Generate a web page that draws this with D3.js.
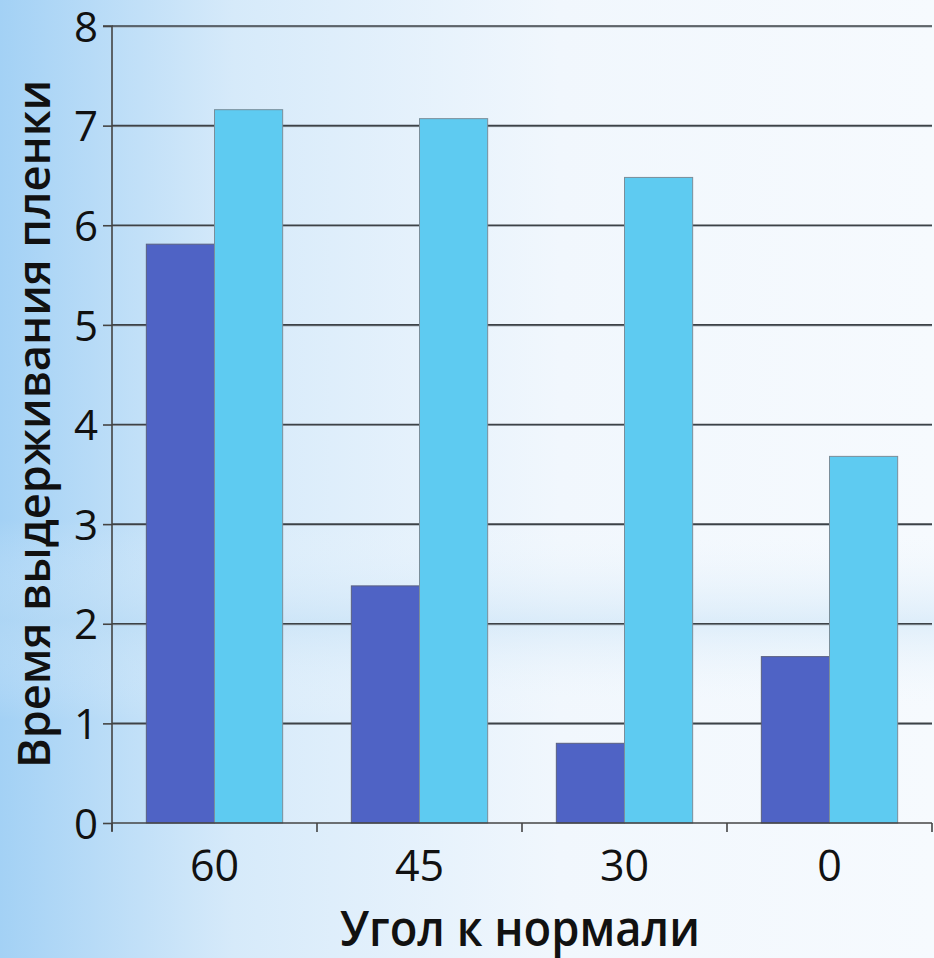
<!DOCTYPE html>
<html><head><meta charset="utf-8">
<script src="https://cdn.jsdelivr.net/npm/d3@7"></script>
<style>html,body{margin:0;padding:0;overflow:hidden;}</style>
</head><body>
<script>
const categories = ["60", "45", "30", "0"];
const seriesDark = [5.81, 2.38, 0.80, 1.67];
const seriesLight = [7.16, 7.07, 6.48, 3.68];
const yTicks = [0, 1, 2, 3, 4, 5, 6, 7, 8];
const yTitle = "Время выдерживания пленки";
const xTitle = "Угол к нормали";

const W = 934, H = 958;
const svg = d3.select("body").append("svg").attr("width", W).attr("height", H);
const defs = svg.append("defs");
const g1 = defs.append("linearGradient").attr("id","bg").attr("x1","0").attr("y1","0").attr("x2","1").attr("y2","0");
g1.append("stop").attr("offset","0").attr("stop-color","#a3d1f5");
g1.append("stop").attr("offset","0.25").attr("stop-color","#d6eafa");
g1.append("stop").attr("offset","0.6").attr("stop-color","#f1f7fd");
g1.append("stop").attr("offset","1").attr("stop-color","#f6fafe");
svg.append("rect").attr("width",W).attr("height",H).attr("fill","url(#bg)");
const g2 = defs.append("linearGradient").attr("id","band").attr("x1","0").attr("y1","0").attr("x2","0").attr("y2","1");
g2.append("stop").attr("offset","0").attr("stop-color","#ffffff").attr("stop-opacity","0");
g2.append("stop").attr("offset","0.5").attr("stop-color","#bcdcf4").attr("stop-opacity","0.4");
g2.append("stop").attr("offset","1").attr("stop-color","#ffffff").attr("stop-opacity","0");
svg.append("rect").attr("x",0).attr("y",520).attr("width",W).attr("height",200).attr("fill","url(#band)");

const x0 = 112, x1 = 932, yTop = 26, yBot = 823;
const x = d3.scaleBand().domain(categories).range([x0, x1]).paddingInner(0.335).paddingOuter(0.1675);
const y = d3.scaleLinear().domain([0, 8]).range([yBot, yTop]);

// gridlines
svg.append("g").selectAll("line").data(yTicks.filter(d=>d>0)).join("line")
  .attr("x1", x0).attr("x2", x1).attr("y1", d=>y(d)+1).attr("y2", d=>y(d)+1)
  .attr("stroke","#9aa3ab").attr("stroke-width",1);
svg.append("g").selectAll("line").data(yTicks.filter(d=>d>0)).join("line")
  .attr("x1", x0).attr("x2", x1).attr("y1", d=>y(d)).attr("y2", d=>y(d))
  .attr("stroke","#3d4247").attr("stroke-width",1.6);

// bars
const bw = x.bandwidth()/2;
const groups = svg.append("g").selectAll("g").data(categories).join("g");
groups.append("rect").attr("x", d=>x(d)).attr("width", bw)
  .attr("y", (d,i)=>y(seriesDark[i])).attr("height", (d,i)=>yBot - y(seriesDark[i]))
  .attr("fill","#4f63c5").attr("stroke","#5a6080").attr("stroke-width",1);
groups.append("rect").attr("x", d=>x(d)+bw).attr("width", bw)
  .attr("y", (d,i)=>y(seriesLight[i])).attr("height", (d,i)=>yBot - y(seriesLight[i]))
  .attr("fill","#5ecbf1").attr("stroke","#7a8e9a").attr("stroke-width",1);

// y axis
const yAxis = d3.axisLeft(y).tickValues(yTicks).tickSize(9).tickPadding(5).tickFormat(d3.format("d"));
const ya = svg.append("g").attr("transform",`translate(${x0},0)`).call(yAxis);
ya.select(".domain").attr("stroke","#444").attr("stroke-width",1.6).attr("d",`M-9,${yTop}H0V${yBot+8}`);
ya.selectAll(".tick line").attr("stroke","#444").attr("stroke-width",1.6);
ya.selectAll(".tick text").attr("font-family","Open Sans, sans-serif").attr("font-size",42).attr("fill","#111").attr("dy","0.36em");

// x axis
const xa = svg.append("g").attr("transform",`translate(0,${yBot})`);
xa.append("line").attr("x1",x0).attr("x2",x1).attr("y1",0).attr("y2",0).attr("stroke","#444").attr("stroke-width",1.6);
const boundaries = categories.map(c => x(c) - x.step()*x.paddingInner()/2).concat([x1]);
xa.selectAll("line.tk").data(boundaries).join("line").attr("class","tk")
  .attr("x1",d=>d).attr("x2",d=>d).attr("y1",0).attr("y2",9).attr("stroke","#444").attr("stroke-width",1.6);
xa.selectAll("text").data(categories).join("text")
  .attr("x", d=>x(d)+x.bandwidth()/2).attr("y", 58)
  .attr("text-anchor","middle").attr("font-family","Open Sans, sans-serif").attr("font-size",43).attr("fill","#111")
  .text(d=>d);

svg.append("text").attr("x", 520).attr("y", 946).attr("text-anchor","middle")
  .attr("font-family","Open Sans, sans-serif").attr("font-size",49).attr("font-weight",600).attr("fill","#111")
  .attr("textLength",360).attr("lengthAdjust","spacingAndGlyphs").text(xTitle);
svg.append("text").attr("transform","translate(50,424) rotate(-90)").attr("text-anchor","middle")
  .attr("font-family","Open Sans, sans-serif").attr("font-size",46).attr("font-weight",600).attr("fill","#111")
  .attr("textLength",688).attr("lengthAdjust","spacingAndGlyphs").text(yTitle);
</script>
</body></html>
